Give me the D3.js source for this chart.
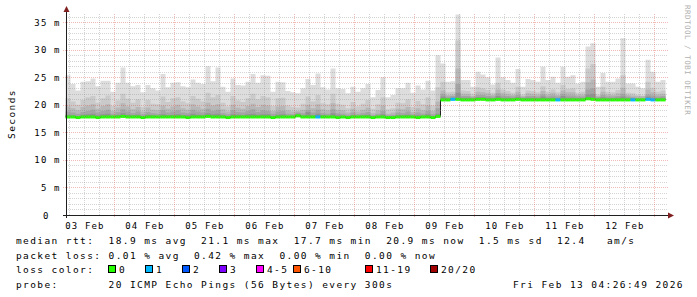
<!DOCTYPE html>
<html>
<head>
<meta charset="utf-8">
<script src="https://cdn.jsdelivr.net/npm/d3@7"></script>
<style>
  body { margin: 0; background: #fff; }
  svg text { font-family: "DejaVu Sans Mono", monospace; white-space: pre; }
</style>
</head>
<body>
<svg id="chart" width="697" height="297"></svg>
<script>
const start = new Date(2026, 1, 3, 4, 26, 49);
const end = new Date(2026, 1, 13, 4, 26, 49);
const binMs = 2 * 3600 * 1000;

// smoke: highest ping and the next ones below it (ms), one value per 2h bin
const pingMax = [
  25.4, 23.8, 22.6, 24.2, 24.3, 24.8, 23.4, 24.4, 24.4, 22.4,
  24.0, 26.8, 24.0, 23.4, 23.6, 22.3, 23.6, 23.0, 22.6, 25.6,
  23.2, 24.0, 24.1, 23.4, 23.2, 24.6, 24.0, 23.8, 27.0, 24.3,
  26.8, 23.3, 22.4, 24.8, 23.6, 23.5, 24.2, 25.6, 24.0, 25.4,
  25.3, 22.4, 24.2, 24.1, 22.5, 22.3, 22.1, 23.0, 24.7, 23.6,
  25.7, 23.2, 22.8, 26.6, 23.0, 22.9, 22.1, 23.3, 22.4, 23.0,
  23.8, 21.4, 22.7, 25.0, 21.4, 21.8, 23.0, 23.0, 24.0, 22.2,
  23.5, 22.8, 24.4, 22.6, 29.0,
  27.5, 24.2, 24.3, 36.4, 24.5, 24.5, 23.3, 26.0, 25.5, 25.0,
  23.7, 28.6, 25.0, 24.5, 24.0, 26.5, 23.3, 24.7, 24.5, 24.2,
  26.9, 24.5, 25.1, 24.0, 26.9, 25.1, 25.4, 23.9, 24.2, 30.6,
  31.2, 23.3, 25.8, 24.2, 24.2, 24.8, 32.1, 23.9, 23.9, 23.3,
  23.0, 28.2, 26.0, 24.2, 24.5
];
const ping19 = [
  21.2, 20.6, 20.0, 20.9, 21.4, 21.6, 20.4, 21.2, 21.7, 19.8,
  20.8, 22.0, 21.1, 20.4, 21.0, 19.6, 20.9, 20.2, 20.1, 21.5,
  20.5, 21.2, 21.4, 20.6, 20.3, 21.6, 21.1, 20.6, 22.2, 21.4,
  21.8, 20.4, 19.7, 21.6, 20.8, 20.5, 21.2, 22.0, 21.0, 21.6,
  21.4, 19.8, 21.2, 21.3, 19.9, 19.6, 19.5, 20.2, 21.5, 20.6,
  21.8, 20.3, 20.1, 22.0, 20.2, 20.0, 19.4, 20.5, 19.7, 20.2,
  20.9, 19.3, 20.1, 21.4, 19.2, 19.4, 20.4, 20.3, 21.0, 19.6,
  20.7, 20.1, 21.4, 19.9, 23.2,
  24.2, 22.3, 22.4, 31.7, 22.6, 22.5, 22.0, 23.2, 23.0, 22.7,
  22.2, 24.0, 22.8, 22.5, 22.2, 23.3, 21.9, 22.6, 22.5, 22.3,
  23.4, 22.4, 22.8, 22.3, 23.6, 22.9, 23.0, 22.2, 22.4, 26.6,
  27.4, 21.9, 23.3, 22.4, 22.3, 22.7, 25.4, 22.2, 22.1, 21.8,
  21.7, 24.2, 23.1, 22.4, 22.6
];
const ping18 = [
  19.7, 19.4, 19.0, 19.6, 19.9, 20.1, 19.3, 19.8, 20.1, 18.9,
  19.5, 20.3, 19.7, 19.2, 19.6, 18.8, 19.5, 19.1, 19.0, 19.9,
  19.3, 19.7, 20.0, 19.4, 19.1, 20.1, 19.7, 19.3, 20.4, 19.9,
  20.1, 19.2, 18.8, 20.0, 19.5, 19.3, 19.8, 20.2, 19.6, 20.0,
  19.9, 18.9, 19.7, 19.8, 19.0, 18.8, 18.9, 19.1, 20.0, 19.4,
  20.1, 19.2, 19.0, 20.3, 19.1, 19.0, 18.6, 19.3, 18.8, 19.1,
  19.5, 18.5, 19.0, 19.9, 18.4, 18.6, 19.3, 19.2, 19.6, 18.7,
  19.4, 19.0, 19.9, 18.9, 20.6,
  22.6, 21.8, 21.9, 26.6, 22.0, 22.0, 21.6, 22.4, 22.3, 22.1,
  21.8, 22.8, 22.2, 22.0, 21.8, 22.4, 21.6, 22.1, 22.0, 21.9,
  22.5, 21.9, 22.2, 21.8, 22.6, 22.3, 22.3, 21.8, 21.9, 24.1,
  24.6, 21.6, 22.4, 21.9, 21.8, 22.1, 23.1, 21.8, 21.7, 21.6,
  21.6, 22.8, 22.3, 21.9, 22.0
];
const ping17 = [
  18.8, 18.6, 18.4, 18.7, 18.9, 19.1, 18.6, 18.9, 19.1, 18.4,
  18.7, 19.2, 18.8, 18.5, 18.8, 18.3, 18.7, 18.5, 18.4, 19.0,
  18.6, 18.8, 19.0, 18.6, 18.5, 19.1, 18.8, 18.6, 19.3, 18.9,
  19.1, 18.5, 18.3, 19.0, 18.7, 18.6, 18.9, 19.2, 18.7, 19.0,
  18.9, 18.4, 18.8, 18.9, 18.4, 18.3, 18.6, 18.5, 19.0, 18.6,
  19.1, 18.5, 18.4, 19.2, 18.5, 18.4, 18.2, 18.6, 18.3, 18.5,
  18.7, 18.1, 18.4, 18.9, 18.1, 18.2, 18.6, 18.5, 18.8, 18.3,
  18.6, 18.4, 18.9, 18.3, 19.4,
  22.0, 21.5, 21.6, 23.8, 21.6, 21.6, 21.4, 21.8, 21.8, 21.6,
  21.5, 22.1, 21.7, 21.6, 21.5, 21.8, 21.4, 21.6, 21.6, 21.5,
  21.9, 21.5, 21.7, 21.5, 22.0, 21.7, 21.7, 21.5, 21.5, 22.8,
  23.0, 21.4, 21.8, 21.5, 21.5, 21.6, 22.0, 21.5, 21.4, 21.3,
  21.3, 21.9, 21.7, 21.5, 21.6
];
const ping16 = [
  18.2, 18.1, 18.0, 18.2, 18.3, 18.4, 18.1, 18.3, 18.4, 18.0,
  18.2, 18.5, 18.2, 18.1, 18.2, 18.0, 18.2, 18.1, 18.0, 18.3,
  18.1, 18.2, 18.3, 18.1, 18.1, 18.4, 18.2, 18.1, 18.5, 18.3,
  18.4, 18.1, 18.0, 18.3, 18.2, 18.1, 18.3, 18.4, 18.2, 18.3,
  18.3, 18.0, 18.2, 18.3, 18.0, 18.0, 18.4, 18.1, 18.7, 18.1,
  18.4, 18.1, 18.0, 18.5, 18.1, 18.0, 17.9, 18.1, 18.0, 18.1,
  18.2, 17.9, 18.0, 18.3, 17.9, 17.9, 18.1, 18.1, 18.2, 18.0,
  18.1, 18.0, 18.3, 18.0, 18.4,
  21.5, 21.2, 21.3, 22.2, 21.3, 21.3, 21.2, 21.4, 21.4, 21.3,
  21.2, 21.6, 21.3, 21.3, 21.2, 21.4, 21.2, 21.3, 21.3, 21.2,
  21.5, 21.2, 21.3, 21.2, 21.6, 21.3, 21.3, 21.2, 21.2, 21.9,
  22.0, 21.2, 21.4, 21.2, 21.2, 21.3, 21.5, 21.2, 21.2, 21.1,
  21.1, 21.5, 21.3, 21.2, 21.3
];
const median = [
  17.8, 17.8, 17.7, 17.8, 17.8, 17.8, 17.7, 17.8, 17.8, 17.8,
  17.8, 17.9, 17.8, 17.8, 17.8, 17.7, 17.8, 17.8, 17.8, 17.8,
  17.8, 17.8, 17.8, 17.8, 17.7, 17.8, 17.8, 17.8, 17.9, 17.8,
  17.8, 17.8, 17.7, 17.8, 17.8, 17.8, 17.8, 17.8, 17.8, 17.8,
  17.8, 17.7, 17.8, 17.8, 17.8, 17.8, 18.0, 17.8, 17.8, 17.8,
  17.8, 17.8, 17.8, 17.8, 17.7, 17.8, 17.7, 17.8, 17.8, 17.8,
  17.8, 17.7, 17.8, 17.8, 17.7, 17.7, 17.8, 17.8, 17.8, 17.8,
  17.7, 17.8, 17.8, 17.7, 17.9,
  20.9, 20.9, 21.0, 21.0, 20.9, 20.9, 20.9, 21.0, 21.0, 20.9,
  20.9, 21.0, 20.9, 20.9, 20.9, 21.0, 20.9, 20.9, 20.9, 20.9,
  20.9, 20.9, 20.9, 20.9, 20.9, 20.9, 20.9, 20.9, 20.9, 21.1,
  21.0, 20.9, 20.9, 20.9, 20.9, 20.9, 20.9, 20.9, 20.9, 20.9,
  20.9, 21.0, 20.9, 20.9, 20.9
];
// lost pings out of 20 per bin
const loss = [
  0, 0, 0, 0, 0, 0, 0, 0, 0, 0,
  0, 0, 0, 0, 0, 0, 0, 0, 0, 0,
  0, 0, 0, 0, 0, 0, 0, 0, 0, 0,
  0, 0, 0, 0, 0, 0, 0, 0, 0, 0,
  0, 0, 0, 0, 0, 0, 0, 0, 0, 0,
  1, 0, 0, 0, 0, 0, 0, 0, 0, 0,
  0, 0, 0, 0, 0, 0, 0, 0, 0, 0,
  0, 0, 0, 0, 0,
  0, 0, 1, 0, 0, 0, 0, 0, 0, 0,
  0, 0, 0, 0, 0, 0, 0, 0, 0, 0,
  0, 0, 0, 1, 0, 0, 0, 0, 0, 0,
  0, 0, 0, 0, 0, 0, 0, 0, 1, 0,
  0, 1, 1, 0, 0
];

const smokeColors = ["#dddddd", "#cacaca", "#b7b7b7", "#a4a4a4", "#919191"];
const lossLabels = ["0", "1", "2", "3", "4-5", "6-10", "11-19", "20/20"];
const lossLimits = [0, 1, 2, 3, 5, 10, 19, 20];
const lossColors = ["#26ff00", "#00b8ff", "#0059ff", "#7e00ff", "#ff00ff", "#ff5500", "#ff0000", "#a10000"];
const lossBoxX = [108, 145, 182, 219, 256, 293, 365, 430];
const yTicks = [0, 5, 10, 15, 20, 25, 30, 35];

const rttLine = "median rtt:  18.9 ms avg  21.1 ms max  17.7 ms min  20.9 ms now  1.5 ms sd  12.4   am/s";
const lossLine = "packet loss: 0.01 % avg  0.42 % max  0.00 % min  0.00 % now";
const probeLine = "probe:       20 ICMP Echo Pings (56 Bytes) every 300s";
const stampLine = "Fri Feb 13 04:26:49 2026";

const svg = d3.select("#chart");
svg.append("rect").attr("width", 697).attr("height", 297).attr("fill", "#fff");

const x = d3.scaleTime().domain([start, end]).range([65.5, 665.5]);
const y = d3.scaleLinear().domain([0, 36.32]).range([215, 15]);
const px = (v) => Math.round(v) + 0.5;

const rows = median.map((m, i) => ({
  t: new Date(+start + i * binMs),
  med: m,
  p: [pingMax[i], ping19[i], ping18[i], ping17[i], ping16[i]],
  loss: loss[i]
}));
rows.push(Object.assign({}, rows[rows.length - 1], { t: end }));

// smoke, outer (lightest) first
const data = svg.append("g");
smokeColors.forEach((c, j) => {
  data.append("path")
    .datum(rows)
    .attr("fill", c)
    .attr("d", d3.area().curve(d3.curveStepAfter)
      .x((d) => x(d.t)).y0((d) => y(d.med)).y1((d) => y(Math.max(d.p[j], d.med))));
});

// median line, then loss coloured segments
data.append("path")
  .datum(rows)
  .attr("fill", "none")
  .attr("stroke", "#202020")
  .attr("d", d3.line().curve(d3.curveStepAfter).x((d) => x(d.t)).y((d) => y(d.med)));

const lossColor = (n) => lossColors[lossLimits.findIndex((l) => n <= l)];
data.selectAll("line.med").data(rows.slice(0, -1)).enter().append("line")
  .attr("x1", (d) => x(d.t))
  .attr("x2", (d) => x(new Date(+d.t + binMs)))
  .attr("y1", (d) => y(d.med))
  .attr("y2", (d) => y(d.med))
  .attr("stroke", (d) => lossColor(d.loss))
  .attr("stroke-width", 3);

// grid on top
const grid = svg.append("g").attr("shape-rendering", "crispEdges");
const minorH = d3.range(1, 37).filter((v) => v % 5 !== 0);
grid.selectAll("line.hmin").data(minorH).enter().append("line")
  .attr("x1", 66).attr("x2", 668)
  .attr("y1", (d) => px(y(d))).attr("y2", (d) => px(y(d)))
  .attr("stroke", "#8f8f8f").attr("stroke-opacity", 0.38).attr("stroke-dasharray", "1,1");
grid.selectAll("line.hmaj").data(yTicks.slice(1)).enter().append("line")
  .attr("x1", 63).attr("x2", 668)
  .attr("y1", (d) => px(y(d))).attr("y2", (d) => px(y(d)))
  .attr("stroke", "#de4f4f").attr("stroke-opacity", 0.4).attr("stroke-dasharray", "1,1");

const days = d3.timeDay.range(d3.timeDay.ceil(start), end);
const sixHours = d3.timeHour.every(6).range(start, end).filter((t) => t.getHours() !== 0);
grid.selectAll("line.vmin").data(sixHours).enter().append("line")
  .attr("x1", (d) => px(x(d))).attr("x2", (d) => px(x(d)))
  .attr("y1", 14).attr("y2", 215)
  .attr("stroke", "#8f8f8f").attr("stroke-opacity", 0.38).attr("stroke-dasharray", "1,1");
grid.selectAll("line.vmaj").data(days).enter().append("line")
  .attr("x1", (d) => px(x(d))).attr("x2", (d) => px(x(d)))
  .attr("y1", 14).attr("y2", 218)
  .attr("stroke", "#de4f4f").attr("stroke-opacity", 0.4).attr("stroke-dasharray", "1,1");

// axes
const axes = svg.append("g").attr("shape-rendering", "crispEdges");
axes.append("line").attr("x1", 63).attr("x2", 669).attr("y1", 215.5).attr("y2", 215.5)
  .attr("stroke", "#1f1f1f");
axes.append("line").attr("x1", 66.5).attr("x2", 66.5).attr("y1", 218).attr("y2", 11)
  .attr("stroke", "#1f1f1f");
svg.append("path").attr("d", "M668,212.5L674,215.5L668,218.5Z").attr("fill", "#7f1f1f");
svg.append("path").attr("d", "M63.5,12L66.5,6L69.5,12Z").attr("fill", "#7f1f1f");

const tickFont = 9, tickLs = 1.15;
svg.selectAll("text.ytick").data(yTicks).enter().append("text")
  .attr("x", (d) => (d === 0 ? 48.5 : 59.5) + tickLs)
  .attr("y", (d) => y(d) + 3.5)
  .attr("text-anchor", "end")
  .style("font-size", tickFont + "px")
  .style("letter-spacing", tickLs + "px")
  .attr("fill", "#000")
  .text((d) => (d === 0 ? "0" : d + " m"));

const noons = days.map((d) => d3.timeHour.offset(d, -12)).filter((d) => d > start);
const fmt = d3.timeFormat("%d %b");
svg.selectAll("text.xtick").data(noons).enter().append("text")
  .attr("x", (d) => x(d) + tickLs / 2)
  .attr("y", 229)
  .attr("text-anchor", "middle")
  .style("font-size", tickFont + "px")
  .style("letter-spacing", tickLs + "px")
  .attr("fill", "#000")
  .text(fmt);

const legFont = 9.5, legLs = 1.4;
const legend = svg.append("g").style("font-size", legFont + "px").style("letter-spacing", legLs + "px").attr("fill", "#000");
legend.append("text").attr("x", 16).attr("y", 244).text(rttLine);
legend.append("text").attr("x", 16).attr("y", 258.5).text(lossLine);
legend.append("text").attr("x", 16).attr("y", 273).text("loss color:");
legend.append("text").attr("x", 16).attr("y", 287.5).text(probeLine);
legend.append("text").attr("x", 513).attr("y", 287.5).text(stampLine);

lossLabels.forEach((lab, i) => {
  legend.append("rect")
    .attr("x", lossBoxX[i] + 0.5).attr("y", 265.5).attr("width", 7).attr("height", 7)
    .attr("fill", lossColors[i]).attr("stroke", "#000").attr("stroke-width", 1);
  legend.append("text").attr("x", lossBoxX[i] + 11).attr("y", 273).text(lab);
});

svg.append("text")
  .attr("transform", "translate(15,114) rotate(-90)")
  .attr("text-anchor", "middle")
  .style("font-size", legFont + "px")
  .style("letter-spacing", legLs + "px")
  .attr("fill", "#000")
  .text("Seconds");

svg.append("text")
  .attr("transform", "translate(685,5) rotate(90)")
  .style("font-size", "7.5px")
  .style("letter-spacing", "0.5px")
  .attr("fill", "#b0b0b0")
  .text("RRDTOOL / TOBI OETIKER");
</script>
</body>
</html>
